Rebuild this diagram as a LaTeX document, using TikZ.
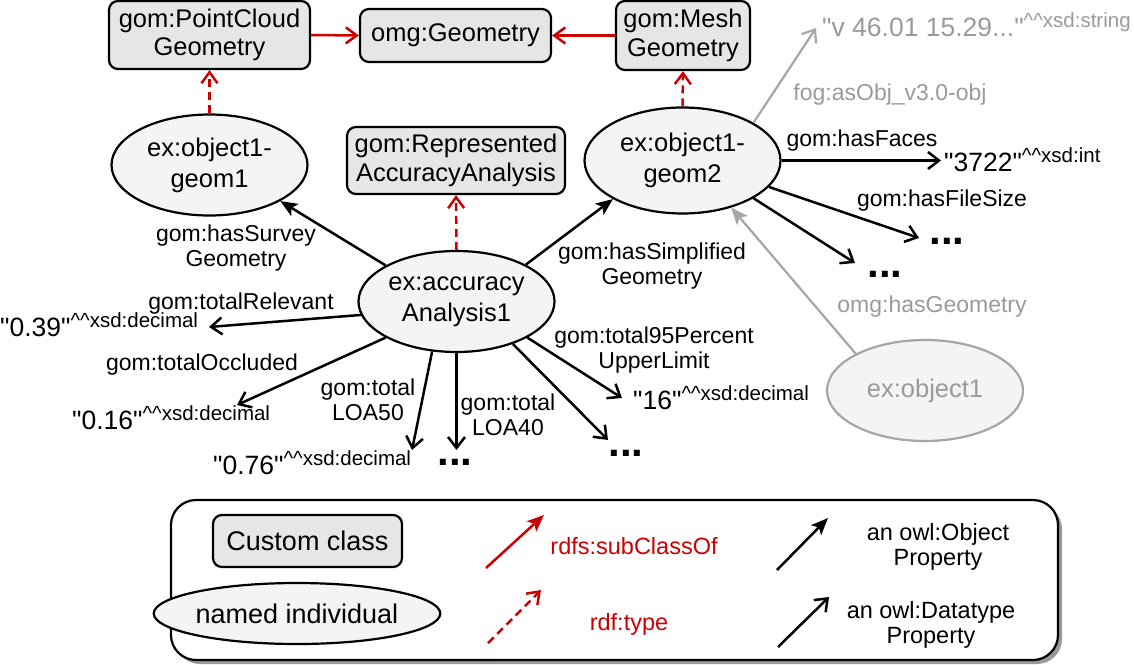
\documentclass[tikz,border=0pt]{standalone}
\usepackage{fontspec}
\setmainfont{Liberation Sans}[Ligatures=TeXOff]
\usetikzlibrary{arrows.meta,shapes.geometric,shadows}

\definecolor{subred}{HTML}{CC0000}
\definecolor{soft}{HTML}{A6A6A6}
\definecolor{softtext}{HTML}{9A9A9A}
\definecolor{clsfill}{HTML}{E6E6E6}
\definecolor{indfill}{HTML}{F4F4F4}

\newcommand\nodefnt{\fontsize{25.5}{28.5}\selectfont}
\newcommand\indfnt{\fontsize{25.5}{31}\selectfont}
\newcommand\edgefnt{\fontsize{23}{25.5}\selectfont}
\newcommand\litfnt{\fontsize{26.5}{28}\selectfont}
\newcommand\legfnt{\fontsize{23.5}{25.5}\selectfont}
\newcommand\legnodefnt{\fontsize{27}{30}\selectfont}
\newcommand\dtype[1]{\raisebox{9pt}{\fontsize{20.5}{20.5}\selectfont\textasciicircum\textasciicircum#1}}

\tikzset{
  cls/.style={draw, line width=2.2pt, rounded corners=9pt, fill=clsfill,
    align=center, font=\nodefnt, inner sep=0pt},
  ind/.style={draw, ellipse, line width=2.2pt, fill=indfill, align=center,
    font=\indfnt, inner sep=0pt, minimum width=196pt, minimum height=101pt},
  objp/.style={line width=2.5pt, -{Stealth[length=17pt,width=14pt,inset=4pt]}},
  datp/.style={line width=2.5pt, -{Straight Barb[length=11pt,width=17pt]}},
  subc/.style={subred, line width=2.5pt, -{Straight Barb[length=11pt,width=16pt]}},
  typeof/.style={subc, dash pattern=on 8pt off 5pt},
  lbl/.style={font=\edgefnt, align=center, inner sep=0pt},
  lit/.style={font=\litfnt, inner sep=0pt, anchor=base west},
  more/.style={font=\fontsize{42}{42}\selectfont\bfseries, inner sep=0pt},
}

\begin{document}
\begin{tikzpicture}[x=1pt, y=-1pt]
\useasboundingbox (0,0) rectangle (1134,664);

% classes
\node[cls, minimum width=201pt, minimum height=68pt] (pc) at (209.5,35) {gom:PointCloud\\Geometry};
\node[cls, minimum width=191pt, minimum height=53pt] (geo) at (455.5,35.5) {omg:Geometry};
\node[cls, minimum width=134pt, minimum height=69pt] (mesh) at (683,35.5) {gom:Mesh\\Geometry};
\node[cls, minimum width=218pt, minimum height=67pt] (rep) at (456,160.5) {gom:Represented\\AccuracyAnalysis};

% individuals
\node[ind] (g1) at (209.5,165) {ex:object1-\\geom1};
\node[ind, minimum height=106pt] (g2) at (682.5,160.5) {ex:object1-\\geom2};
\node[ind] (acc) at (456.5,301.5) {ex:accuracy\\Analysis1};
\node[ind, draw=soft, text=softtext] (obj1) at (925,390.5) {ex:object1};

% literals
\node[lit] (l039) at (0,336) {"0.39"\dtype{xsd:decimal}};
\node[lit] (l016) at (72,429) {"0.16"\dtype{xsd:decimal}};
\node[lit] (l076) at (213,474) {"0.76"\dtype{xsd:decimal}};
\node[lit] (l16) at (633,409) {"16"\dtype{xsd:decimal}};
\node[lit] (l3722) at (944,171) {"3722"\dtype{xsd:int}};
\node[lit, text=softtext] (lobj) at (822,36) {"v 46.01 15.29..."\dtype{xsd:string}};
\node[more] (m1) at (455,462) {...};
\node[more] (m2) at (626,453) {...};
\node[more] (m3) at (947,241) {...};
\node[more] (m4) at (885,274) {...};

% arrow ends next to the literals
\coordinate (t039) at (209,327);
\coordinate (t016) at (237,405);
\coordinate (t076) at (412,450);
\coordinate (tm1) at (456.5,450);
\coordinate (t16) at (622,398);
\coordinate (tm2) at (608,440);
\coordinate (t3722) at (941,160.5);
\coordinate (tm3) at (919,238);
\coordinate (tm4) at (855,263);
\coordinate (tobj) at (816,28);

% subclass and type links
\draw[subc] (pc.east) -- (geo.west);
\draw[subc] (mesh.west) -- (geo.east);
\draw[typeof] (g1.north) -- (pc.south);
\draw[typeof] (g2.north) -- (mesh.south);
\draw[typeof] (acc.north) -- (rep.south);

% object properties
\draw[objp] (acc.153) -- (g1.-27);
\draw[objp] (acc.28) -- (g2.209);
\draw[objp, soft, line width=2.2pt] (obj1.152) -- (g2.-44);

% datatype properties
\draw[datp] (acc.188) -- (t039);
\draw[datp] (acc.207) -- (t016);
\draw[datp] (acc.244) -- (t076);
\draw[datp] (acc.south) -- (tm1);
\draw[datp] (acc.-27) -- (t16);
\draw[datp] (acc.-37) -- (tm2);
\draw[datp] (g2.east) -- (t3722);
\draw[datp] (g2.-17) -- (tm3);
\draw[datp] (g2.-28) -- (tm4);
\draw[datp, soft, line width=2.2pt] (g2.28) -- (tobj);

% property labels
\node[lbl] (e1) at (236,248) {gom:hasSurvey\\Geometry};
\node[lbl] (e2) at (652,266) {gom:hasSimplified\\Geometry};
\node[lbl] (e3) at (241,304) {gom:totalRelevant};
\node[lbl] (e4) at (202,365) {gom:totalOccluded};
\node[lbl] (e5) at (368,400) {gom:total\\LOA50};
\node[lbl] (e6) at (508,415) {gom:total\\LOA40};
\node[lbl] (e7) at (654,350) {gom:total95Percent\\UpperLimit};
\node[lbl] (e8) at (862,141) {gom:hasFaces};
\node[lbl] (e9) at (942,201) {gom:hasFileSize};
\node[lbl, text=softtext] (e10) at (890,95) {fog:asObj\_v3.0-obj};
\node[lbl, text=softtext] (e11) at (932,307) {omg:hasGeometry};

% legend
\node[draw, line width=2.2pt, rounded corners=25pt, fill=white,
  minimum width=887pt, minimum height=160pt,
  drop shadow={shadow xshift=4pt, shadow yshift=-4pt, fill=black!40, opacity=1}]
  (legend) at (614.5,580) {};
\node[cls, font=\legnodefnt, minimum width=189pt, minimum height=52pt] (kcls) at (307.5,541) {Custom class};
\node[ind, font=\legnodefnt, minimum width=242pt, minimum height=61pt] (kind) at (297,613.5) {named individual};
\coordinate (ks1) at (486,568); \coordinate (ks2) at (544,515);
\coordinate (kt1) at (488,643); \coordinate (kt2) at (541,590);
\coordinate (ko1) at (777,570); \coordinate (ko2) at (828,518);
\coordinate (kd1) at (778,647); \coordinate (kd2) at (829,597);
\draw[subred, line width=2.5pt, -{Stealth[length=17pt,width=14pt,inset=4pt]}] (ks1) -- (ks2);
\draw[typeof] (kt1) -- (kt2);
\draw[objp] (ko1) -- (ko2);
\draw[datp] (kd1) -- (kd2);
\node[font=\legfnt, text=subred, inner sep=0pt] (ksl) at (634,546) {rdfs:subClassOf};
\node[font=\legfnt, text=subred, inner sep=0pt] (ktl) at (629,624) {rdf:type};
\node[font=\legfnt, align=center, inner sep=0pt] (kol) at (938,547) {an owl:Object\\Property};
\node[font=\legfnt, align=center, inner sep=0pt] (kdl) at (931,625) {an owl:Datatype\\Property};
\end{tikzpicture}
\end{document}
